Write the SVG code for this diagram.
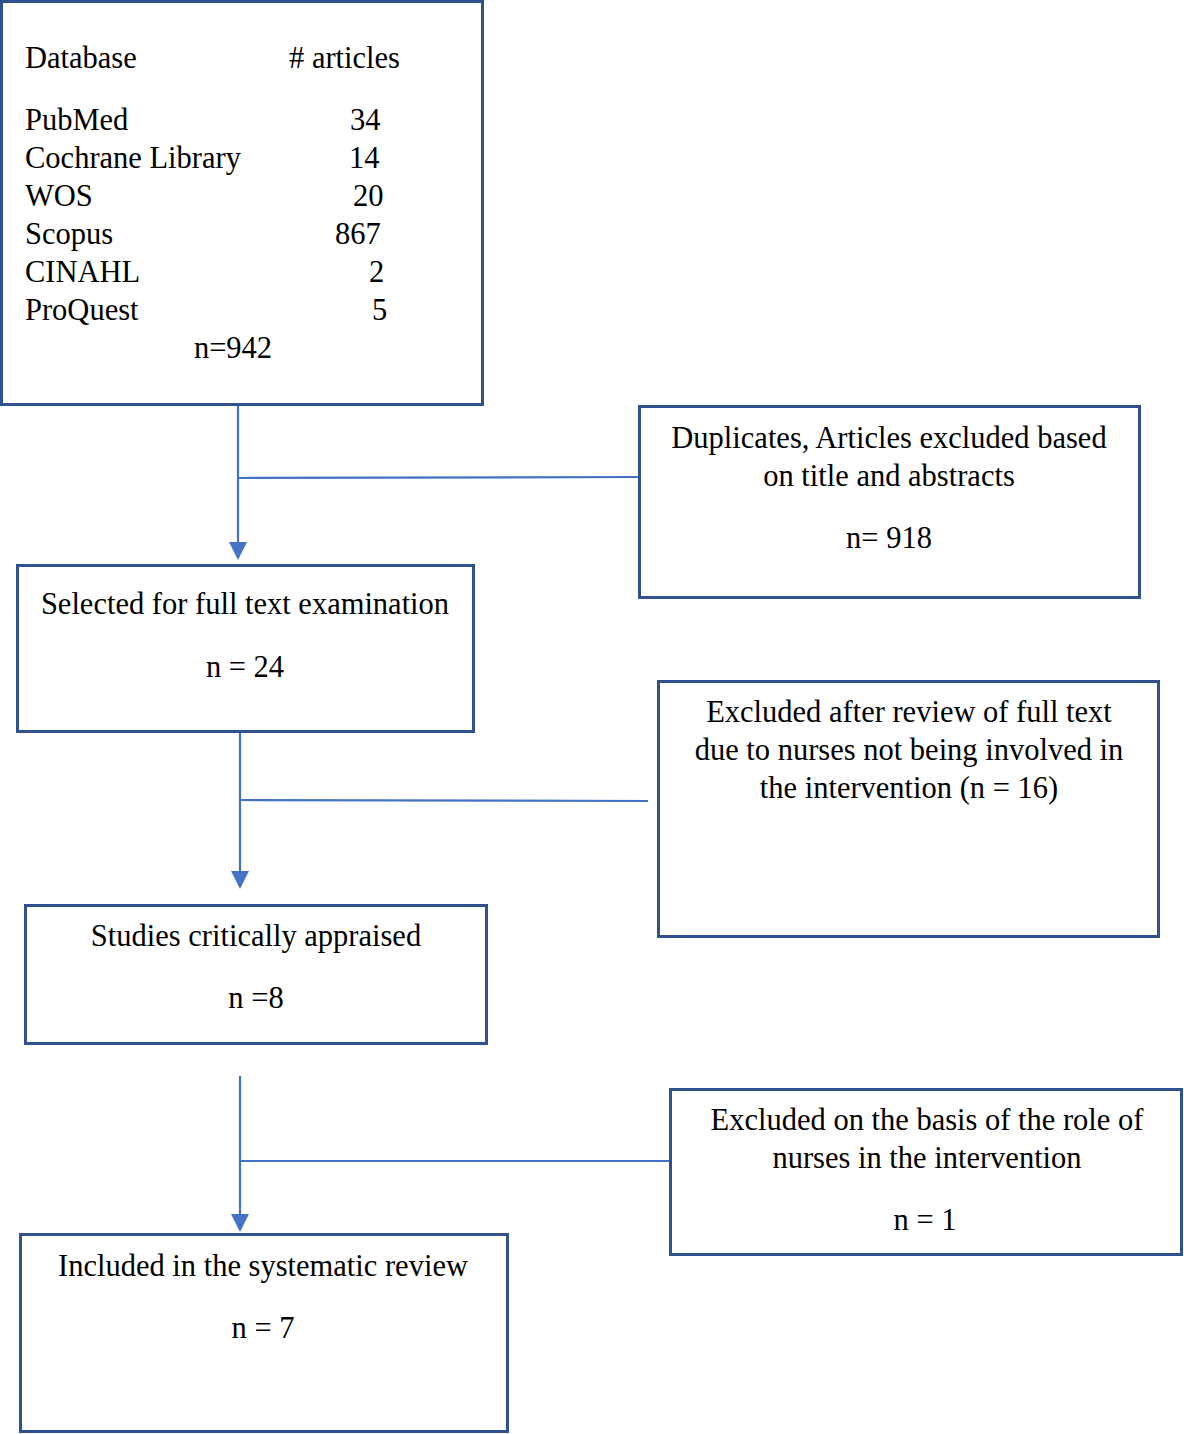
<svg xmlns="http://www.w3.org/2000/svg" width="1184" height="1434" viewBox="0 0 1184 1434">
<style>
.box{fill:#fff;stroke:#2F528F;stroke-width:3}
.t{font-family:"Liberation Serif","Times New Roman",serif;font-size:30.5px;fill:#000}
.c{text-anchor:middle}
.ln{stroke:#4472C4;stroke-width:2.2;fill:none}
.ah{fill:#4472C4}
</style>
<rect width="1184" height="1434" fill="#fff"/>
<g id="connectors">
<line class="ln" x1="238" y1="405" x2="238" y2="542"/>
<path class="ah" d="M229,542 L247,542 L238,560 Z"/>
<line class="ln" x1="239" y1="478" x2="639" y2="477"/>
<line class="ln" x1="240" y1="732" x2="240" y2="871"/>
<path class="ah" d="M231,871 L249,871 L240,889 Z"/>
<line class="ln" x1="240" y1="800" x2="648" y2="801"/>
<line class="ln" x1="240" y1="1076" x2="240" y2="1214"/>
<path class="ah" d="M231,1214 L249,1214 L240,1232 Z"/>
<line class="ln" x1="241" y1="1161" x2="670" y2="1161"/>
</g>
<g id="n-databases">
<rect class="box" x="1.5" y="1.5" width="481" height="403"/>
<text class="t" x="25" y="68">Database</text>
<text class="t" x="289" y="68"># articles</text>
<text class="t" x="25" y="130">PubMed</text>
<text class="t" x="350" y="130">34</text>
<text class="t" x="25" y="168">Cochrane Library</text>
<text class="t" x="349" y="168">14</text>
<text class="t" x="25" y="206">WOS</text>
<text class="t" x="353" y="206">20</text>
<text class="t" x="25" y="244">Scopus</text>
<text class="t" x="335" y="244">867</text>
<text class="t" x="25" y="282">CINAHL</text>
<text class="t" x="369" y="282">2</text>
<text class="t" x="25" y="320">ProQuest</text>
<text class="t" x="372" y="320">5</text>
<text class="t c" x="233" y="358">n=942</text>
</g>
<g id="n-duplicates">
<rect class="box" x="639.5" y="406.5" width="500" height="191"/>
<text class="t c" x="889" y="448">Duplicates, Articles excluded based</text>
<text class="t c" x="889" y="486">on title and abstracts</text>
<text class="t c" x="889" y="548">n= 918</text>
</g>
<g id="n-selected">
<rect class="box" x="17.5" y="565.5" width="456" height="166"/>
<text class="t c" x="245" y="614">Selected for full text examination</text>
<text class="t c" x="245" y="677">n = 24</text>
</g>
<g id="n-excluded-fulltext">
<rect class="box" x="658.5" y="681.5" width="500" height="255"/>
<text class="t c" x="909" y="722">Excluded after review of full text</text>
<text class="t c" x="909" y="760">due to nurses not being involved in</text>
<text class="t c" x="909" y="798">the intervention (n = 16)</text>
</g>
<g id="n-appraised">
<rect class="box" x="25.5" y="905.5" width="461" height="138"/>
<text class="t c" x="256" y="946">Studies critically appraised</text>
<text class="t c" x="256" y="1008">n =8</text>
</g>
<g id="n-excluded-role">
<rect class="box" x="670.5" y="1089.5" width="511" height="165"/>
<text class="t c" x="927" y="1130">Excluded on the basis of the role of</text>
<text class="t c" x="927" y="1168">nurses in the intervention</text>
<text class="t c" x="925" y="1230">n = 1</text>
</g>
<g id="n-included">
<rect class="box" x="20.5" y="1234.5" width="487" height="197"/>
<text class="t c" x="263" y="1276">Included in the systematic review</text>
<text class="t c" x="263" y="1338">n = 7</text>
</g>
</svg>
